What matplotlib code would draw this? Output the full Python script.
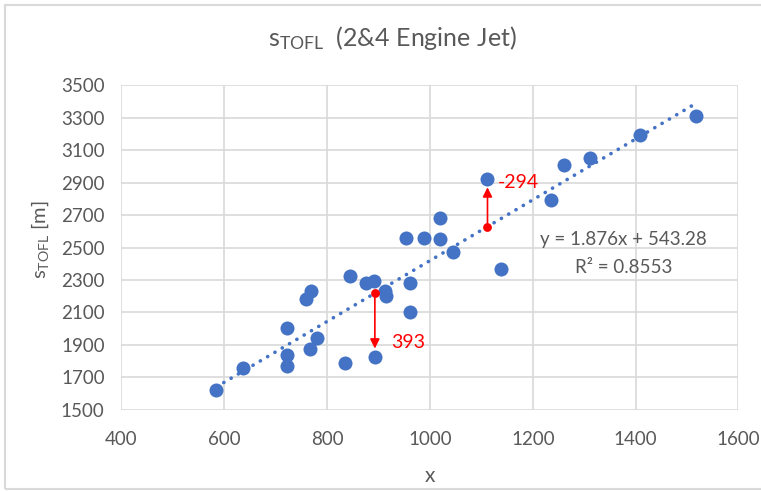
import matplotlib.pyplot as plt
from matplotlib.patches import Rectangle

plt.rcParams['font.family'] = ['Lato', 'DejaVu Sans']
plt.rcParams['mathtext.default'] = 'regular'

# reference field length vs. x for 2 and 4 engine jets
x_vals = [585, 637, 722, 722, 722, 760, 768, 766, 780, 834, 845, 875, 892,
          913, 915, 962, 961, 954, 988, 1020, 1020, 1045, 1235, 1139,
          1260, 1311, 1408, 1518]
y_vals = [1620, 1755, 2005, 1837, 1770, 2185, 2230, 1873, 1940, 1785, 2325,
          2284, 2295, 2230, 2200, 2280, 2100, 2557, 2557, 2555, 2680, 2475,
          2795, 2365, 3008, 3055, 3197, 3312]

# points with residuals marked (residual = trend - actual)
res_x = [893, 1112]
res_vals = [393, -294]
res_label_pos = [(925, 1913), (1131, 2899)]

slope = 1.876
intercept = 543.28
r2 = 0.8553

blue = '#4472C4'
grey = '#595959'

def trend(v):
    return slope * v + intercept

res_pred = [trend(v) for v in res_x]
res_y = [p - r for p, r in zip(res_pred, res_vals)]

all_x = x_vals + res_x
all_y = y_vals + res_y

fig = plt.figure(figsize=(7.61, 4.91), dpi=100)
ax = fig.add_axes([0.1594, 0.1656, 0.811, 0.6603])

ax.scatter(all_x, all_y, s=102, color=blue, zorder=3, linewidths=0)

# linear trendline over data range
tx = [min(all_x), max(all_x)]
ax.plot(tx, [trend(v) for v in tx], color=blue, lw=2.6,
        linestyle=(0, (0.05, 2.3)), dash_capstyle='round', zorder=2)

# residual arrows
for xp, yp, ya, r, pos in zip(res_x, res_pred, res_y, res_vals, res_label_pos):
    ax.annotate('', xy=(xp, ya), xytext=(xp, yp),
                arrowprops=dict(arrowstyle='-|>', color='red', lw=1.2,
                                mutation_scale=14, shrinkA=0, shrinkB=6),
                zorder=4)
    ax.scatter([xp], [yp], s=40, color='red', zorder=5, linewidths=0)
    ax.text(pos[0], pos[1], str(r), color='red', fontsize=14,
            va='center', ha='left')

ax.text(1377, 2547, 'y = %.3fx + %.2f' % (slope, intercept), color=grey,
        fontsize=13.5, ha='center', va='center')
ax.text(1377, 2375, 'R² = %.4f' % r2, color=grey, fontsize=13.5,
        ha='center', va='center')

ax.set_xlim(400, 1600)
ax.set_ylim(1500, 3500)
ax.set_xticks(range(400, 1601, 200))
ax.set_yticks(range(1500, 3501, 200))
ax.grid(True, color='#d9d9d9', lw=1.2)
ax.set_axisbelow(True)
for s in ax.spines.values():
    s.set_visible(False)
ax.tick_params(length=0, labelsize=13.5, colors=grey)
ax.tick_params(axis='x', pad=15)
ax.tick_params(axis='y', pad=12)

fig.text(430 / 761, 1 - 476 / 491, 'x', color=grey, fontsize=15,
         ha='center', va='center')
fig.text(40 / 761, 1 - 240 / 491, 's$_{TOFL}$ [m]', color=grey,
         fontsize=14.5, rotation=90, ha='center', va='center')
fig.text(392 / 761, 1 - 38 / 491, 's$_{TOFL}$  (2&4 Engine Jet)',
         color=grey, fontsize=18, ha='center', va='center')

fig.patches.append(Rectangle((5 / 761, 2 / 491), 760 / 761, 484 / 491,
                             transform=fig.transFigure, fill=False,
                             edgecolor='#d9d9d9', lw=1.5))

fig.savefig('out.png', dpi=100)
